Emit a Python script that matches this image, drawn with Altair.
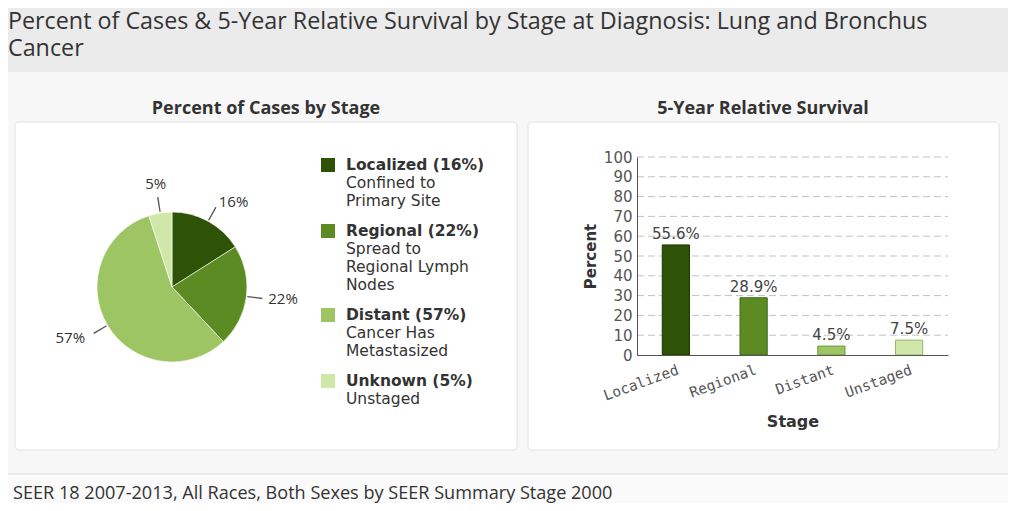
import altair as alt
import pandas as pd

# ---------------- data ----------------
title_lines = ["Percent of Cases & 5-Year Relative Survival by Stage at Diagnosis: Lung and Bronchus", "Cancer"]
pie_title = "Percent of Cases by Stage"
bar_title = "5-Year Relative Survival"
footer_text = "SEER 18 2007-2013, All Races, Both Sexes by SEER Summary Stage 2000"

pie_stages = ["Localized", "Regional", "Distant", "Unknown"]
pie_percent = [16, 22, 57, 5]
legend_details = [["Confined to", "Primary Site"],
                  ["Spread to", "Regional Lymph", "Nodes"],
                  ["Cancer Has", "Metastasized"],
                  ["Unstaged"]]

bar_stages = ["Localized", "Regional", "Distant", "Unstaged"]
survival = [55.6, 28.9, 4.5, 7.5]
y_ticks = [0, 10, 20, 30, 40, 50, 60, 70, 80, 90, 100]

color_domain = ["Localized", "Regional", "Distant", "Unknown", "Unstaged"]
color_range = ["#2e5306", "#5b8b22", "#9dc563", "#cfe8aa", "#cfe8aa"]
stroke_range = ["#1c3500", "#3e6a12", "#6e9a3c", "#8fb866"]

# ---------------- tables ----------------
pie_df = pd.DataFrame({"stage": pie_stages, "pct": pie_percent,
                       "order": list(range(len(pie_stages))),
                       "label": [f"{p}%" for p in pie_percent]})

rows = []
line = 0
for i, (s, p, det) in enumerate(zip(pie_stages, pie_percent, legend_details)):
    rows.append({"stage": s, "text": f"{s} ({p}%)", "header": 1, "line": line, "entry": i})
    line += 1
    for d in det:
        rows.append({"stage": s, "text": d, "header": 0, "line": line, "entry": i})
        line += 1
legend_df = pd.DataFrame(rows)

bar_df = pd.DataFrame({"stage": bar_stages, "value": survival,
                       "label": [f"{v}%" for v in survival]})
grid_df = pd.DataFrame({"value": y_ticks[1:]})

one = alt.Data(values=[{}])
color_scale = alt.Scale(domain=color_domain, range=color_range)
CX, CY = 164, 279
W, H = 1000, 495

# ---------------- decorations ----------------
title_bg = alt.Chart(one).mark_rect(color="#ebebeb").encode(
    x=alt.value(0), x2=alt.value(W), y=alt.value(0), y2=alt.value(64))
footer_bg = alt.Chart(one).mark_rect(color="#fafafa").encode(
    x=alt.value(0), x2=alt.value(W), y=alt.value(466), y2=alt.value(H))
footer_line = alt.Chart(one).mark_rule(color="#dcdcdc").encode(
    x=alt.value(0), x2=alt.value(W), y=alt.value(466))
panel_l = alt.Chart(one).mark_rect(color="white", stroke="#e2e2e2", cornerRadius=4).encode(
    x=alt.value(7), x2=alt.value(509), y=alt.value(114), y2=alt.value(442))
panel_r = alt.Chart(one).mark_rect(color="white", stroke="#e2e2e2", cornerRadius=4).encode(
    x=alt.value(520), x2=alt.value(991), y=alt.value(114), y2=alt.value(442))

title_1 = alt.Chart(one).mark_text(text=title_lines[0], align="left", baseline="middle",
                                   font="Open Sans", fontSize=23.3, color="#333").encode(
    x=alt.value(0), y=alt.value(14))
title_2 = alt.Chart(one).mark_text(text=title_lines[1], align="left", baseline="middle",
                                   font="Open Sans", fontSize=23.3, color="#333").encode(
    x=alt.value(0), y=alt.value(41))
pie_title_txt = alt.Chart(one).mark_text(text=pie_title, align="center", baseline="middle",
                                         font="Open Sans", fontWeight="bold", fontSize=18,
                                         color="#333").encode(x=alt.value(258), y=alt.value(101))
bar_title_txt = alt.Chart(one).mark_text(text=bar_title, align="center", baseline="middle",
                                         font="Open Sans", fontWeight="bold", fontSize=18,
                                         color="#333").encode(x=alt.value(755), y=alt.value(101))
footer_txt = alt.Chart(one).mark_text(text=footer_text, align="left", baseline="middle",
                                      font="Open Sans", fontSize=18.1, color="#333").encode(
    x=alt.value(5), y=alt.value(486))

# ---------------- pie ----------------
arcs = alt.Chart(pie_df).mark_arc(outerRadius=75, stroke="white", strokeWidth=0.6).encode(
    theta=alt.Theta("pct:Q", stack=True),
    order=alt.Order("order:Q"),
    color=alt.Color("stage:N", scale=color_scale, legend=None),
    x=alt.value(CX), y=alt.value(CY))

mid_base = alt.Chart(pie_df).transform_window(
    cum="sum(pct)", sort=[alt.SortField("order")], frame=[None, 0]
).transform_joinaggregate(total="sum(pct)").transform_calculate(
    mid="(datum.cum - datum.pct/2)/datum.total*2*PI"
).transform_calculate(
    t1="datum.mid - 0.008", t2="datum.mid + 0.008",
    side="sin(datum.mid) > 0.3 ? 'right' : (sin(datum.mid) < -0.3 ? 'left' : 'top')")

leaders = mid_base.mark_arc(radius=91, radius2=76, color="#555").encode(
    theta=alt.Theta("t1:Q", scale=None), theta2="t2:Q",
    x=alt.value(CX), y=alt.value(CY))

lab_style = dict(font="Open Sans", fontSize=15, color="#333", baseline="middle")
lab_enc = dict(theta=alt.Theta("mid:Q", scale=None), text="label:N",
               x=alt.value(CX), y=alt.value(CY))
lab_right = mid_base.transform_filter("datum.side == 'right'").mark_text(
    radius=97, align="left", **lab_style).encode(**lab_enc)
lab_left = mid_base.transform_filter("datum.side == 'left'").mark_text(
    radius=101, align="right", **lab_style).encode(**lab_enc)
lab_top = mid_base.transform_filter("datum.side == 'top'").mark_text(
    radius=104, align="center", **lab_style).encode(**lab_enc)

# ---------------- legend ----------------
leg_base = alt.Chart(legend_df).transform_calculate(
    ypos="157 + 18*datum.line + 12*datum.entry")
leg_sq = leg_base.transform_filter("datum.header == 1").mark_square(size=196, opacity=1).encode(
    x=alt.value(320), y=alt.Y("ypos:Q", scale=None),
    color=alt.Color("stage:N", scale=color_scale, legend=None))
leg_head = leg_base.transform_filter("datum.header == 1").mark_text(
    align="left", baseline="middle", font="DejaVu Sans", fontWeight="bold",
    fontSize=15.5, color="#333").encode(x=alt.value(338), y=alt.Y("ypos:Q", scale=None), text="text:N")
leg_body = leg_base.transform_filter("datum.header == 0").mark_text(
    align="left", baseline="middle", font="DejaVu Sans",
    fontSize=15.5, color="#333").encode(x=alt.value(338), y=alt.Y("ypos:Q", scale=None), text="text:N")

# ---------------- bar chart ----------------
yscale = alt.Scale(domain=[0, 100], range=[347, 149])
xscale = alt.Scale(domain=bar_stages, range=[629, 940], paddingInner=0.65, paddingOuter=0.325)
x_axis = alt.Axis(title="Stage", offset=-148, labelAngle=-20, ticks=False,
                  labelFont="DejaVu Sans Mono", labelFontSize=14.5, labelColor="#555",
                  labelPadding=8, titleFont="DejaVu Sans", titleFontSize=16,
                  titleFontWeight="bold", titleColor="#333", titlePadding=11,
                  domainColor="#555", zindex=1)
y_axis = alt.Axis(title="Percent", offset=-629, values=y_ticks, grid=False, ticks=False,
                  labelFont="DejaVu Sans", labelFontSize=15, labelColor="#555",
                  labelPadding=5, titleFont="DejaVu Sans", titleFontSize=15,
                  titleFontWeight="bold", titleColor="#333", titlePadding=5,
                  domainColor="#555", zindex=1)

grid = alt.Chart(grid_df).mark_rule(color="#c2c2c2", strokeDash=[7, 4]).encode(
    y=alt.Y("value:Q", scale=yscale, axis=y_axis), x=alt.value(629), x2=alt.value(940))
bars = alt.Chart(bar_df).mark_bar(strokeWidth=1).encode(
    x=alt.X("stage:N", sort=bar_stages, scale=xscale, axis=x_axis),
    y=alt.Y("value:Q", scale=yscale, axis=y_axis),
    color=alt.Color("stage:N", scale=color_scale, legend=None),
    stroke=alt.Stroke("stage:N", scale=alt.Scale(domain=bar_stages, range=stroke_range), legend=None))
bar_labels = alt.Chart(bar_df).mark_text(baseline="bottom", dy=-3, font="DejaVu Sans",
                                         fontSize=15, color="#444").encode(
    x=alt.X("stage:N", sort=bar_stages, scale=xscale, axis=x_axis),
    y=alt.Y("value:Q", scale=yscale, axis=y_axis),
    text="label:N")
bar_layer = alt.layer(grid, bars, bar_labels)

chart = alt.layer(
    title_bg, footer_bg, footer_line, panel_l, panel_r,
    title_1, title_2, pie_title_txt, bar_title_txt, footer_txt,
    arcs, leaders, lab_right, lab_left, lab_top,
    leg_sq, leg_head, leg_body,
    bar_layer,
).properties(
    width=W, height=H, padding=0, background="#f7f7f7",
    autosize=alt.AutoSizeParams(type="none"),
).configure_view(stroke=None)

chart.save("out.html", embed_options={"renderer": "svg", "actions": False})
